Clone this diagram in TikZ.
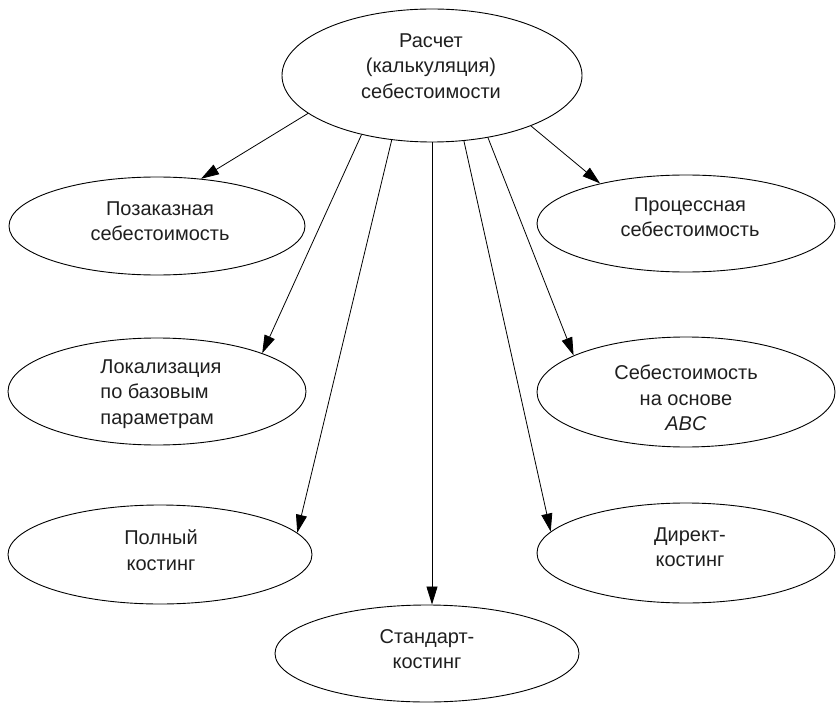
\documentclass[tikz,border=0pt]{standalone}
\usepackage{fontspec}
\setmainfont{Liberation Sans}
\usetikzlibrary{arrows.meta,shapes.geometric}
\begin{document}
\begin{tikzpicture}[x=1pt,y=-1pt,
  oval/.style={draw, ellipse, line width=0.9pt, inner sep=0pt},
  lbl/.style={align=center, font=\fontsize{20}{25.5}\selectfont, text=black!88, inner sep=0pt},
  link/.style={line width=0.8pt, -{Triangle[length=18pt,width=11pt]}}]
\useasboundingbox (0,0) rectangle (837,703);

% ellipses
\node[oval, minimum width=300pt, minimum height=133pt] (root) at (432,75.5) {};
\node[oval, minimum width=296pt, minimum height=98pt]  (order) at (157,226) {};
\node[oval, minimum width=298pt, minimum height=97pt]  (process) at (686,223.5) {};
\node[oval, minimum width=298pt, minimum height=107pt] (local) at (157,391.5) {};
\node[oval, minimum width=298pt, minimum height=110pt] (abc) at (686,392) {};
\node[oval, minimum width=304pt, minimum height=99pt]  (full) at (160,554.5) {};
\node[oval, minimum width=298pt, minimum height=100pt] (direct) at (686,553) {};
\node[oval, minimum width=304pt, minimum height=97pt]  (standard) at (427,653.5) {};

% captions
\node[lbl] (troot) at (431,66) {Расчет\\(калькуляция)\\себестоимости};
\node[lbl] (torder) at (160,221) {Позаказная\\себестоимость};
\node[lbl] (tprocess) at (690,217) {Процессная\\себестоимость};
\node[lbl, align=left] (tlocal) at (161,394) {Локализация\\по базовым\\параметрам};
\node[lbl] (tabc) at (686,398) {Себестоимость\\на основе\\\textit{ABC}};
\node[lbl] (tfull) at (161,550) {Полный\\костинг};
\node[lbl] (tdirect) at (690,547) {Директ-\\костинг};
\node[lbl] (tstandard) at (427,649) {Стандарт-\\костинг};

% connectors
\draw[link] (root.197.7) -- (order.47);
\draw[link] (root.220.6) -- (local.20);
\draw[link] (root.238) -- (full.9);
\draw[link] (root.270) -- (root.270 |- standard.north);
\draw[link] (root.296.4) -- (direct.171.6);
\draw[link] (root.312.3) -- (abc.162.5);
\draw[link] (root.333.7) -- (process.155.8);
\end{tikzpicture}
\end{document}
